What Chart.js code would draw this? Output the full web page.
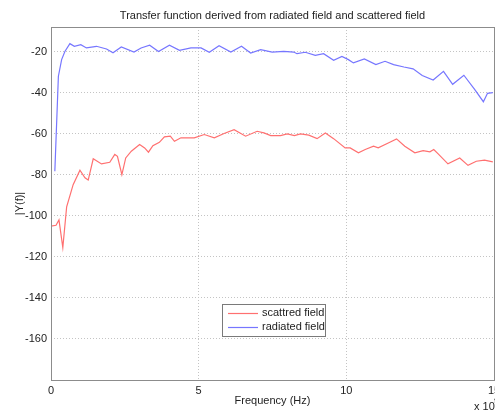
<!DOCTYPE html>
<html>
<head>
<meta charset="utf-8">
<script src="https://cdn.jsdelivr.net/npm/chart.js@4.4.1/dist/chart.umd.min.js"></script>
<style>
  html, body { margin: 0; padding: 0; background: #fff; }
  #wrap { width: 495px; height: 411px; }
</style>
</head>
<body>
<div id="wrap"><canvas id="tfChart" width="495" height="411"></canvas></div>
<script>
// values (frequency in units of 1e9 Hz, magnitude in dB)
var scatFreq = [0, 0.17, 0.27, 0.4, 0.53, 0.75, 0.98, 1.15, 1.26, 1.43, 1.71, 1.99, 2.16, 2.25, 2.4, 2.53, 2.72, 3.0, 3.17, 3.3, 3.45, 3.67, 3.84, 4.04, 4.18, 4.4, 4.85, 5.19, 5.53, 5.86, 6.2, 6.59, 6.98, 7.21, 7.44, 7.77, 8.0, 8.24, 8.45, 8.73, 9.01, 9.29, 9.57, 9.96, 10.13, 10.41, 10.64, 10.92, 11.08, 11.42, 11.7, 11.98, 12.32, 12.6, 12.83, 12.96, 13.11, 13.44, 13.84, 14.12, 14.4, 14.68, 14.96];
var scatMag = [-105, -104.6, -102, -115.5, -95.6, -84.8, -77.8, -81.5, -82.6, -72.2, -74.7, -73.9, -70.1, -71, -79.9, -71.8, -68.5, -65.3, -66.9, -69, -65.8, -64.2, -61.5, -61.2, -63.7, -62, -62, -60.4, -62, -59.9, -58, -61.2, -58.8, -59.6, -60.9, -60.9, -60.1, -60.9, -60.1, -60.7, -62.4, -59.6, -62.4, -66.9, -66.9, -69.3, -67.7, -66.1, -66.9, -64.5, -62.5, -66.1, -69.3, -68.2, -68.8, -67.7, -69.8, -74.7, -71.8, -75.4, -73.4, -72.9, -73.7];

var radFreq = [0.13, 0.25, 0.36, 0.47, 0.64, 0.79, 1.01, 1.2, 1.54, 1.88, 2.1, 2.38, 2.81, 3.05, 3.34, 3.64, 4.01, 4.35, 4.74, 5.08, 5.36, 5.69, 6.09, 6.45, 6.76, 7.1, 7.49, 7.88, 8.22, 8.33, 8.61, 8.95, 9.23, 9.57, 9.85, 10.07, 10.24, 10.61, 11.0, 11.31, 11.6, 11.95, 12.26, 12.57, 12.94, 13.29, 13.6, 13.98, 14.35, 14.64, 14.78, 14.96];
var radMag = [-78.3, -32, -23.9, -19.9, -16.1, -17.4, -16.6, -18.2, -17.4, -18.7, -20.6, -17.7, -20.2, -18.2, -16.9, -19.9, -16.9, -19.4, -18.2, -18.2, -20.3, -17.1, -20.2, -17.4, -20.7, -19, -20.2, -19.9, -20.2, -21, -20.3, -21.8, -21, -24.2, -22.3, -23.9, -25.5, -23.6, -26.3, -24.7, -26.3, -27.5, -28.4, -31.6, -33.8, -29.6, -35.9, -31.5, -38.5, -44.4, -40.3, -40];

var seriesNames = ["scattred field", "radiated field"];
var seriesColors = ["rgb(255,112,112)", "rgb(118,118,255)"];
var xTicks = [0, 5, 10, 15];
var yTicks = [-160, -140, -120, -100, -80, -60, -40, -20];
var chartTitle = "Transfer function derived from radiated field and scattered field";

function toPoints(xs, ys) {
  return xs.map(function (x, i) { return { x: x, y: ys[i] }; });
}

var FONT = "'Liberation Sans', Arial, sans-serif";
var gridStyle = { color: "#c4c4c4", lineWidth: 1, drawTicks: false };

// title over the axes, frame, legend box and the "x 10^9" multiplier (MATLAB style)
var matlabBits = {
  id: "matlabBits",
  afterDatasetsDraw: function (chart) {
    var c = chart.ctx, a = chart.chartArea;
    c.save();
    c.fillStyle = "#222";
    c.font = "11px " + FONT;
    c.textAlign = "center";
    c.textBaseline = "middle";
    c.fillText(chartTitle, (a.left + a.right) / 2, 16);

    c.strokeStyle = "#8c8c8c";
    c.lineWidth = 1;
    c.strokeRect(Math.round(a.left) + 0.5, Math.round(a.top) + 0.5,
      Math.round(a.right - a.left), Math.round(a.bottom - a.top));

    // legend
    var lx = 222, ly = 304, lw = 103, lh = 32;
    c.fillStyle = "#fff";
    c.fillRect(lx, ly, lw, lh);
    c.strokeStyle = "#7a7a7a";
    c.strokeRect(lx + 0.5, ly + 0.5, lw, lh);
    c.textAlign = "left";
    for (var i = 0; i < seriesNames.length; i++) {
      var y = ly + 9 + i * 14;
      c.strokeStyle = seriesColors[i];
      c.lineWidth = 1.2;
      c.beginPath();
      c.moveTo(lx + 6, y + 0.5);
      c.lineTo(lx + 36, y + 0.5);
      c.stroke();
      c.fillStyle = "#222";
      c.fillText(seriesNames[i], lx + 40, y);
    }

    // exponent of the x axis
    c.fillStyle = "#222";
    c.textBaseline = "alphabetic";
    c.fillText("x 10", 474, 410);
    c.font = "8px " + FONT;
    c.fillText("9", 494, 403);
    c.restore();
  }
};

var ctx = document.getElementById("tfChart").getContext("2d");
var tfChart = new Chart(ctx, {
  type: "scatter",
  data: {
    datasets: [
      {
        label: seriesNames[0],
        data: toPoints(scatFreq, scatMag),
        showLine: true,
        borderColor: seriesColors[0],
        borderWidth: 1.2,
        pointRadius: 0,
        tension: 0
      },
      {
        label: seriesNames[1],
        data: toPoints(radFreq, radMag),
        showLine: true,
        borderColor: seriesColors[1],
        borderWidth: 1.2,
        pointRadius: 0,
        tension: 0
      }
    ]
  },
  options: {
    responsive: false,
    animation: false,
    layout: { padding: { left: 0, right: 1, top: 27, bottom: 0 } },
    plugins: {
      legend: { display: false },
      tooltip: { enabled: false },
      title: { display: false }
    },
    scales: {
      x: {
        type: "linear",
        min: 0,
        max: 15,
        afterBuildTicks: function (s) { s.ticks = xTicks.map(function (v) { return { value: v }; }); },
        afterFit: function (s) { s.height = 31; s.paddingLeft = 0; s.paddingRight = 0; },
        border: { display: false, dash: [1, 2] },
        grid: gridStyle,
        ticks: { color: "#222", font: { family: FONT, size: 11 }, padding: 4, maxRotation: 0 },
        title: {
          display: true,
          text: "Frequency (Hz)",
          color: "#222",
          font: { family: FONT, size: 11 },
          padding: { top: 0, bottom: 3 }
        }
      },
      y: {
        min: -180,
        max: -8,
        afterBuildTicks: function (s) { s.ticks = yTicks.map(function (v) { return { value: v }; }); },
        afterFit: function (s) { s.width = 51; s.paddingTop = 0; s.paddingBottom = 0; },
        border: { display: false, dash: [1, 2] },
        grid: gridStyle,
        ticks: { color: "#222", font: { family: FONT, size: 11 }, padding: 4 },
        title: {
          display: true,
          text: "|Y(f)|",
          color: "#222",
          font: { family: FONT, size: 11 },
          padding: { top: 13, bottom: 0 }
        }
      }
    }
  },
  plugins: [matlabBits]
});
</script>
</body>
</html>
